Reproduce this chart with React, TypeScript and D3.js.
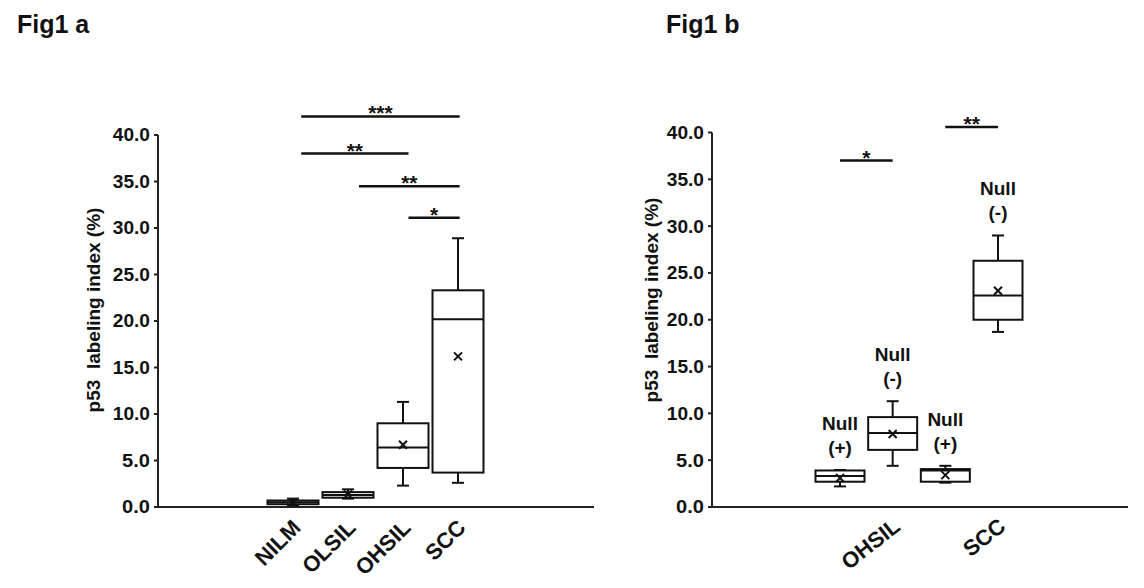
import React from 'react';
import * as d3 from 'd3';

// Fig1 a: p53 labeling index by lesion group
const groupsA = ['NILM', 'OLSIL', 'OHSIL', 'SCC'];
const minA = [0.2, 0.9, 2.3, 2.6];
const q1A = [0.3, 1.0, 4.2, 3.7];
const medianA = [0.5, 1.3, 6.4, 20.2];
const q3A = [0.7, 1.6, 9.0, 23.3];
const maxA = [0.9, 1.9, 11.3, 28.9];
const meanA = [0.5, 1.35, 6.7, 16.2];

// significance bars, from/to as group index
const sigFromA = [0.15, 0.15, 1.2, 2.1];
const sigToA = [3.03, 2.1, 3.03, 3.03];
const sigLevelA = [42.0, 38.0, 34.5, 31.1];
const sigTextA = ['***', '**', '**', '*'];

// Fig1 b: Null (+) / Null (-) split within OHSIL and SCC
const boxLabelsB = ['(+)', '(-)', '(+)', '(-)'];
const minB = [2.2, 4.4, 2.6, 18.7];
const q1B = [2.7, 6.1, 2.7, 20.0];
const medianB = [3.3, 7.9, 3.9, 22.6];
const q3B = [3.9, 9.6, 4.05, 26.3];
const maxB = [3.95, 11.3, 4.4, 29.0];
const meanB = [3.1, 7.8, 3.4, 23.1];
const axisLabelsB = ['OHSIL', 'SCC'];
const axisLabelPosB = [1, 3];

const sigFromB = [0, 2];
const sigToB = [1, 3];
const sigLevelB = [37.0, 40.6];
const sigTextB = ['*', '**'];

const yTicks = d3.range(0, 45, 5);
const fmt = d3.format('.1f');
const FONT = '"Liberation Sans", Arial, sans-serif';

type Stat = { min: number; q1: number; median: number; q3: number; max: number; mean: number };

const toStats = (mn: number[], a: number[], m: number[], b: number[], mx: number[], avg: number[]): Stat[] =>
  mn.map((v, i) => ({ min: v, q1: a[i], median: m[i], q3: b[i], max: mx[i], mean: avg[i] }));

type PanelProps = {
  stats: Stat[];
  x: d3.ScaleLinear<number, number>;
  y: d3.ScaleLinear<number, number>;
  axisX: number;
  axisEnd: number;
  boxWidth: number;
  sigFrom: number[];
  sigTo: number[];
  sigLevel: number[];
  sigText: string[];
  labels: string[];
  labelPos: number[];
  labelAngle: number;
  yLabelX: number;
  yLabelY: number;
  nullLabels?: string[];
};

const Panel: React.FC<PanelProps> = (p) => {
  const { x, y } = p;
  const y0 = y(0);
  const cap = 12;
  return (
    <g fontFamily={FONT} fontWeight="bold" fill="#111">
      {/* axes */}
      <line x1={p.axisX} x2={p.axisX} y1={y(40)} y2={y0} stroke="#222" strokeWidth={2} />
      <line x1={p.axisX} x2={p.axisEnd} y1={y0} y2={y0} stroke="#222" strokeWidth={2.2} />
      {yTicks.map((t) => {
        const label = fmt(t);
        return (
          <g key={t}>
            <line x1={p.axisX - 4} x2={p.axisX} y1={y(t)} y2={y(t)} stroke="#222" strokeWidth={2} />
            <text
              x={p.axisX - 8}
              y={y(t)}
              dy="0.36em"
              textAnchor="end"
              fontSize={18}
              textLength={label.length * 9.3}
              lengthAdjust="spacingAndGlyphs"
            >
              {label}
            </text>
          </g>
        );
      })}
      <text
        transform={`translate(${p.yLabelX},${p.yLabelY}) rotate(-90)`}
        textAnchor="middle"
        fontSize={19}
        xmlSpace="preserve"
      >
        {'p53  labeling index (%)'}
      </text>

      {/* boxes */}
      {p.stats.map((s, i) => {
        const cx = x(i);
        const hw = p.boxWidth / 2;
        return (
          <g key={i} stroke="#111" strokeWidth={2} fill="none">
            <line x1={cx} x2={cx} y1={y(s.q3)} y2={y(s.max)} />
            <line x1={cx} x2={cx} y1={y(s.q1)} y2={y(s.min)} />
            <line x1={cx - cap / 2} x2={cx + cap / 2} y1={y(s.max)} y2={y(s.max)} />
            <line x1={cx - cap / 2} x2={cx + cap / 2} y1={y(s.min)} y2={y(s.min)} />
            <rect x={cx - hw} y={y(s.q3)} width={p.boxWidth} height={Math.max(y(s.q1) - y(s.q3), 2)} fill="#fff" />
            <line x1={cx - hw} x2={cx + hw} y1={y(s.median)} y2={y(s.median)} />
            <path
              d={`M${cx - 4},${y(s.mean) - 4}L${cx + 4},${y(s.mean) + 4}M${cx - 4},${y(s.mean) + 4}L${cx + 4},${y(s.mean) - 4}`}
            />
          </g>
        );
      })}

      {/* Null labels */}
      {p.nullLabels?.map((l, i) => (
        <g key={i} fontSize={19} textAnchor="middle">
          <text x={x(i)} y={y(p.stats[i].max) - 47} dy="0.36em">Null</text>
          <text x={x(i)} y={y(p.stats[i].max) - 23} dy="0.36em">{l}</text>
        </g>
      ))}

      {/* significance */}
      {p.sigLevel.map((lv, i) => (
        <g key={i}>
          <line x1={x(p.sigFrom[i])} x2={x(p.sigTo[i])} y1={y(lv)} y2={y(lv)} stroke="#111" strokeWidth={2.5} />
          <text x={(x(p.sigFrom[i]) + x(p.sigTo[i])) / 2} y={y(lv) + 4} textAnchor="middle" fontSize={21}>
            {p.sigText[i]}
          </text>
        </g>
      ))}

      {/* category labels */}
      {p.labels.map((l, i) => (
        <text
          key={l}
          transform={`translate(${x(p.labelPos[i]) + 9},${y0 + 22}) rotate(${p.labelAngle})`}
          textAnchor="end"
          fontSize={22}
        >
          {l}
        </text>
      ))}
    </g>
  );
};

const App: React.FC = () => {
  const statsA = toStats(minA, q1A, medianA, q3A, maxA, meanA);
  const statsB = toStats(minB, q1B, medianB, q3B, maxB, meanB);

  const xA = d3.scaleLinear().domain([0, groupsA.length - 1]).range([293, 458]);
  const yA = d3.scaleLinear().domain([0, 40]).range([507, 135]);
  const xB = d3.scaleLinear().domain([0, boxLabelsB.length - 1]).range([840, 998]);
  const yB = d3.scaleLinear().domain([0, 40]).range([507, 132.5]);

  return (
    <svg
      width={1144}
      height={588}
      style={{ position: 'absolute', left: 0, top: 0, background: '#fff' }}
    >
      <text x={17} y={33} fontFamily={FONT} fontWeight="bold" fontSize={25} fill="#111">
        Fig1 a
      </text>
      <text x={666} y={33} fontFamily={FONT} fontWeight="bold" fontSize={25} fill="#111">
        Fig1 b
      </text>
      <Panel
        stats={statsA}
        x={xA}
        y={yA}
        axisX={158}
        axisEnd={594}
        boxWidth={51}
        sigFrom={sigFromA}
        sigTo={sigToA}
        sigLevel={sigLevelA}
        sigText={sigTextA}
        labels={groupsA}
        labelPos={groupsA.map((_, i) => i)}
        labelAngle={-45}
        yLabelX={100}
        yLabelY={310}
      />
      <Panel
        stats={statsB}
        x={xB}
        y={yB}
        axisX={712}
        axisEnd={1128}
        boxWidth={49}
        sigFrom={sigFromB}
        sigTo={sigToB}
        sigLevel={sigLevelB}
        sigText={sigTextB}
        labels={axisLabelsB}
        labelPos={axisLabelPosB}
        labelAngle={-38}
        yLabelX={658}
        yLabelY={300}
        nullLabels={boxLabelsB}
      />
    </svg>
  );
};

export default App;
